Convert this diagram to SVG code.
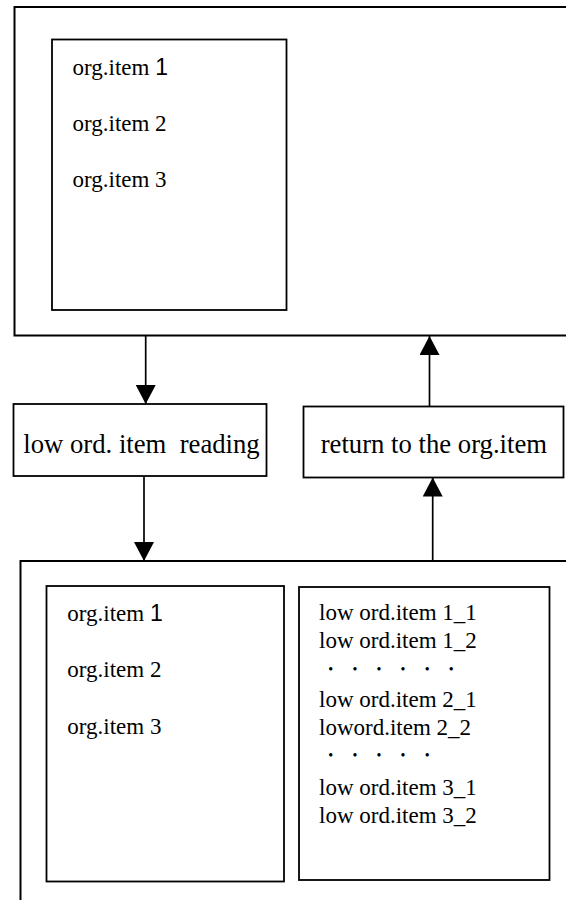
<svg xmlns="http://www.w3.org/2000/svg" width="566" height="900" viewBox="0 0 566 900">
<style>
.box{fill:#fff;stroke:#000;stroke-width:1.8}
.open{fill:none;stroke:#000;stroke-width:2}
.t{font-family:"Liberation Serif","Times New Roman",serif;font-size:23px;fill:#000}
.d{font-family:"Liberation Serif","Times New Roman",serif;font-size:14px;fill:#000}
.tm{font-family:"Liberation Serif","Times New Roman",serif;font-size:26.7px;fill:#000;white-space:pre}
.s{font-family:"Liberation Sans",Arial,sans-serif}
.c{stroke:#000;stroke-width:1.7;fill:none;marker-end:url(#ah)}
</style>
<defs>
<marker id="ah" markerUnits="userSpaceOnUse" markerWidth="19" markerHeight="20" refX="19" refY="10" orient="auto">
<path d="M0,0 L19,10 L0,20 z" fill="#000"/>
</marker>
</defs>
<rect width="566" height="900" fill="#fff"/>
<g id="top-outer">
<path class="open" d="M570,7 H14.5 V335.5 H570"/>
</g>
<g id="top-inner">
<rect class="box" x="52" y="39.5" width="234.5" height="270.5"/>
<text class="t" x="72.5" y="74.5">org.item <tspan class="s">1</tspan></text>
<text class="t" x="72.5" y="130.8">org.item 2</text>
<text class="t" x="72.5" y="187">org.item 3</text>
</g>
<g id="reading">
<rect class="box" x="13.5" y="404" width="253" height="72"/>
<text class="tm" x="23.3" y="453">low ord. item  reading</text>
</g>
<g id="return">
<rect class="box" x="303.5" y="406.5" width="260" height="71"/>
<text class="tm" x="320.7" y="453">return to the org.item</text>
</g>
<g id="bottom-outer">
<path class="open" d="M570,561 H20.5 V905"/>
</g>
<g id="bottom-left">
<rect class="box" x="46.5" y="586" width="237.5" height="295.5"/>
<text class="t" x="67.3" y="620.7">org.item <tspan class="s">1</tspan></text>
<text class="t" x="67.3" y="677.3">org.item 2</text>
<text class="t" x="67.3" y="734">org.item 3</text>
</g>
<g id="bottom-right">
<rect class="box" x="299" y="587" width="250.5" height="293"/>
<text class="t" x="319" y="620">low ord.item 1_1</text>
<text class="t" x="319" y="648.3">low ord.item 1_2</text>
<text class="d" x="328.3 352.4 376.5 400.6 424.7 448.8" y="673.6">••••••</text>
<text class="t" x="319" y="706.7">low ord.item 2_1</text>
<text class="t" x="319" y="735">loword.item 2_2</text>
<text class="d" x="328.3 352.4 376.5 400.6 424.7" y="760.3">•••••</text>
<text class="t" x="319" y="795">low ord.item 3_1</text>
<text class="t" x="319" y="823.3">low ord.item 3_2</text>
</g>
<g id="connectors">
<line class="c" x1="145.7" y1="336" x2="145.7" y2="404"/>
<line class="c" x1="429.5" y1="406.5" x2="429.5" y2="336"/>
<line class="c" x1="144" y1="476" x2="144" y2="561"/>
<line class="c" x1="432.7" y1="561" x2="432.7" y2="477.5"/>
</g>
</svg>
